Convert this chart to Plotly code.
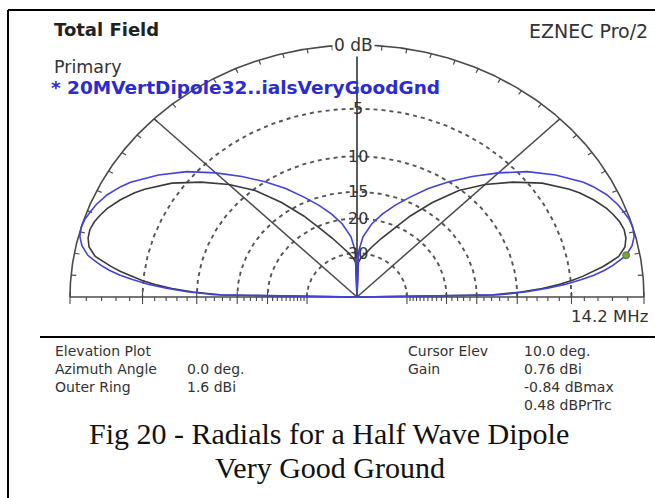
import math
import plotly.graph_objects as go

# ---- pattern data (elevation plot, azimuth 0 deg, gains in dBi) ----
elev_deg = [0, 1, 2, 3, 4, 5, 6, 7, 8, 9, 10, 12, 14, 16, 18, 20, 22, 25, 28, 30,
            35, 40, 45, 50, 55, 60, 65, 70, 75, 80, 85, 88, 90]
primary_dbi = [-99, -10.4, -7.4, -5.4, -3.8, -2.6, -1.6, -0.8, -0.2, 0.3, 0.76,
               1.25, 1.52, 1.6, 1.55, 1.4, 1.25, 0.9, 0.4, 0.0, -1.3, -2.8, -4.6,
               -6.5, -8.4, -10.4, -12.6, -14.7, -16.9, -19.4, -22.9, -27.4, -99]
compare_dbi = [-99, -11.4, -8.0, -5.9, -4.4, -3.3, -2.4, -1.6, -0.9, -0.3, 0.28,
               0.8, 1.0, 1.05, 0.95, 0.75, 0.5, 0.0, -0.6, -1.1, -2.5, -4.3, -6.3,
               -8.6, -11.8, -15.4, -19.2, -22.4, -25.4, -27.9, -30.4, -32.4, -99]

outer_ring_dbi = 1.6
ring_levels = [-5, -10, -15, -20, -30]
ring_labels = ["5", "10", "15", "20", "30"]
cursor_elev = 10.0

info_left = [("Elevation Plot", ""), ("Azimuth Angle", "0.0 deg."), ("Outer Ring", "1.6 dBi")]
info_right = [("Cursor Elev", "10.0 deg."), ("Gain", "0.76 dBi"), ("", "-0.84 dBmax"), ("", "0.48 dBPrTrc")]
caption = ["Fig 20 - Radials for a Half Wave Dipole", "Very Good Ground"]

W, H = 655, 498
CX, CY, RX, RY = 357, 297, 287, 252   # plot centre and outer-ring radii in pixels


def arrl_r(rel_db):
    """ARRL log radial scale: relative dB -> normalised radius."""
    return 0.89 ** (-rel_db / 2.0)


def to_xy(angles, gains):
    xs, ys = [], []
    for a, g in zip(angles, gains):
        r = arrl_r(g - outer_ring_dbi)
        xs.append(r * math.cos(math.radians(a)))
        ys.append(r * math.sin(math.radians(a)))
    return xs, ys


def full_pattern(gains):
    # right half (azimuth 0) then left half (azimuth 180), symmetric pattern
    angles = list(elev_deg) + [180 - a for a in reversed(elev_deg[:-1])]
    vals = list(gains) + list(reversed(gains[:-1]))
    return to_xy(angles, vals)


fig = go.Figure()
grid_col = "#4a4a4a"

# dashed inner rings
for lvl in ring_levels:
    r = arrl_r(lvl)
    th = [i for i in range(0, 181)]
    fig.add_trace(go.Scatter(
        x=[r * math.cos(math.radians(t)) for t in th],
        y=[r * math.sin(math.radians(t)) for t in th],
        mode="lines", line=dict(color="#555555", width=1.9, dash="4px,4px"),
        hoverinfo="skip", showlegend=False))

# outer ring
th = [i * 0.5 for i in range(0, 361)]
fig.add_trace(go.Scatter(
    x=[math.cos(math.radians(t)) for t in th],
    y=[math.sin(math.radians(t)) for t in th],
    mode="lines", line=dict(color=grid_col, width=1.6),
    hoverinfo="skip", showlegend=False))

# ticks on the outer ring, every 5 degrees, pointing inward
tx, ty = [], []
for t in range(5, 180, 5):
    c, s = math.cos(math.radians(t)), math.sin(math.radians(t))
    tx += [c, c * 0.982, None]
    ty += [s, s * 0.982, None]
fig.add_trace(go.Scatter(x=tx, y=ty, mode="lines", line=dict(color=grid_col, width=1.2),
                         hoverinfo="skip", showlegend=False))

# 45 / 135 degree radials, vertical axis and baseline
for t in (45, 135):
    fig.add_trace(go.Scatter(x=[0, math.cos(math.radians(t))], y=[0, math.sin(math.radians(t))],
                             mode="lines", line=dict(color=grid_col, width=1.5),
                             hoverinfo="skip", showlegend=False))
fig.add_trace(go.Scatter(x=[0, 0], y=[0, 1], mode="lines", line=dict(color="#333333", width=1.6),
                         hoverinfo="skip", showlegend=False))
fig.add_trace(go.Scatter(x=[-1, 1], y=[0, 0], mode="lines", line=dict(color=grid_col, width=1.6),
                         hoverinfo="skip", showlegend=False))

# baseline ticks: 1 dB steps, longer at the labelled rings
bx, by = [], []
for d in range(0, 31):
    r = arrl_r(-d)
    big = d in (0, 5, 10, 15, 20, 30)
    lo = -7.0 / RY if big else -4.0 / RY
    hi = 5.0 / RY if big else 0.0
    for sgn in (1, -1):
        bx += [sgn * r, sgn * r, None]
        by += [lo, hi, None]
fig.add_trace(go.Scatter(x=bx, y=by, mode="lines", line=dict(color=grid_col, width=1.1),
                         hoverinfo="skip", showlegend=False))

# comparison trace (dark) and primary trace (blue)
cx_, cy_ = full_pattern(compare_dbi)
fig.add_trace(go.Scatter(x=cx_, y=cy_, mode="lines", line=dict(color="#3a3a3a", width=1.6),
                         hoverinfo="skip", showlegend=False))
px_, py_ = full_pattern(primary_dbi)
fig.add_trace(go.Scatter(x=px_, y=py_, mode="lines", line=dict(color="#4242dc", width=1.6),
                         hoverinfo="skip", showlegend=False))

# cursor marker on the primary trace
ci = elev_deg.index(cursor_elev)
kx, ky = to_xy([cursor_elev], [primary_dbi[ci]])
fig.add_trace(go.Scatter(x=kx, y=ky, mode="markers",
                         marker=dict(color="#78a040", size=7, line=dict(color="#5a7a30", width=1)),
                         hoverinfo="skip", showlegend=False))

ann = []
SANS = "DejaVu Sans, Verdana, sans-serif"


def P(px, py):
    return px / W, 1 - py / H


def text(s, px, py, size=13, color="#222222", xanchor="left", bold=False, family=SANS):
    x, y = P(px, py)
    ann.append(dict(text=("<b>%s</b>" % s) if bold else s, x=x, y=y, xref="paper", yref="paper",
                    xanchor=xanchor, yanchor="middle", showarrow=False,
                    font=dict(size=size, color=color, family=family)))


# ring labels on the vertical axis
for lvl, lab in zip(ring_levels, ring_labels):
    ann.append(dict(text=lab, x=0.005, y=arrl_r(lvl), xref="x", yref="y", showarrow=False,
                    xanchor="center", yanchor="middle",
                    font=dict(size=16, color="#333333", family=SANS)))
ann.append(dict(text="0 dB", x=-0.012, y=1.0, xref="x", yref="y", showarrow=False,
                xanchor="center", yanchor="middle", bgcolor="white", borderpad=1,
                font=dict(size=17, color="#333333", family=SANS)))

text("Total Field", 52, 30, size=18, bold=True)
text("EZNEC Pro/2", 650, 31, size=19, color="#333333", xanchor="right")
text("Primary", 52, 67, size=17.5, color="#333333")
text("* 20MVertDipole32..ialsVeryGoodGnd", 49, 88, size=18.5, color="#2b2bd0", bold=True)
text("14.2 MHz", 650, 316, size=16.5, color="#333333", xanchor="right")

row_y = [351, 369, 387, 405]
for i, (a, b) in enumerate(info_left):
    text(a, 53, row_y[i], size=14, color="#333333")
    if b:
        text(b, 185, row_y[i], size=14, color="#333333")
for i, (a, b) in enumerate(info_right):
    if a:
        text(a, 406, row_y[i], size=14, color="#333333")
    text(b, 522, row_y[i], size=14, color="#333333")

SERIF = "Liberation Serif, Times New Roman, serif"
text(caption[0], 329, 433, size=30, color="#111111", xanchor="center", family=SERIF)
text(caption[1], 330, 467, size=30, color="#111111", xanchor="center", family=SERIF)

# frame and separator
shapes = [
    dict(type="line", xref="paper", yref="paper", x0=8 / W, x1=8 / W, y0=0, y1=1 - 10 / H,
         line=dict(color="black", width=2)),
    dict(type="line", xref="paper", yref="paper", x0=8 / W, x1=1, y0=1 - 10 / H, y1=1 - 10 / H,
         line=dict(color="black", width=2)),
    dict(type="line", xref="paper", yref="paper", x0=40 / W, x1=1, y0=1 - 337 / H, y1=1 - 337 / H,
         line=dict(color="black", width=2.2)),
]

fig.update_layout(
    width=W, height=H, margin=dict(l=0, r=0, t=0, b=0),
    paper_bgcolor="white", plot_bgcolor="white",
    xaxis=dict(range=[(0 - CX) / RX, (W - CX) / RX], visible=False, fixedrange=True),
    yaxis=dict(range=[(CY - H) / RY, CY / RY], visible=False, fixedrange=True),
    annotations=ann, shapes=shapes, showlegend=False,
)

fig.write_html("out.html")
